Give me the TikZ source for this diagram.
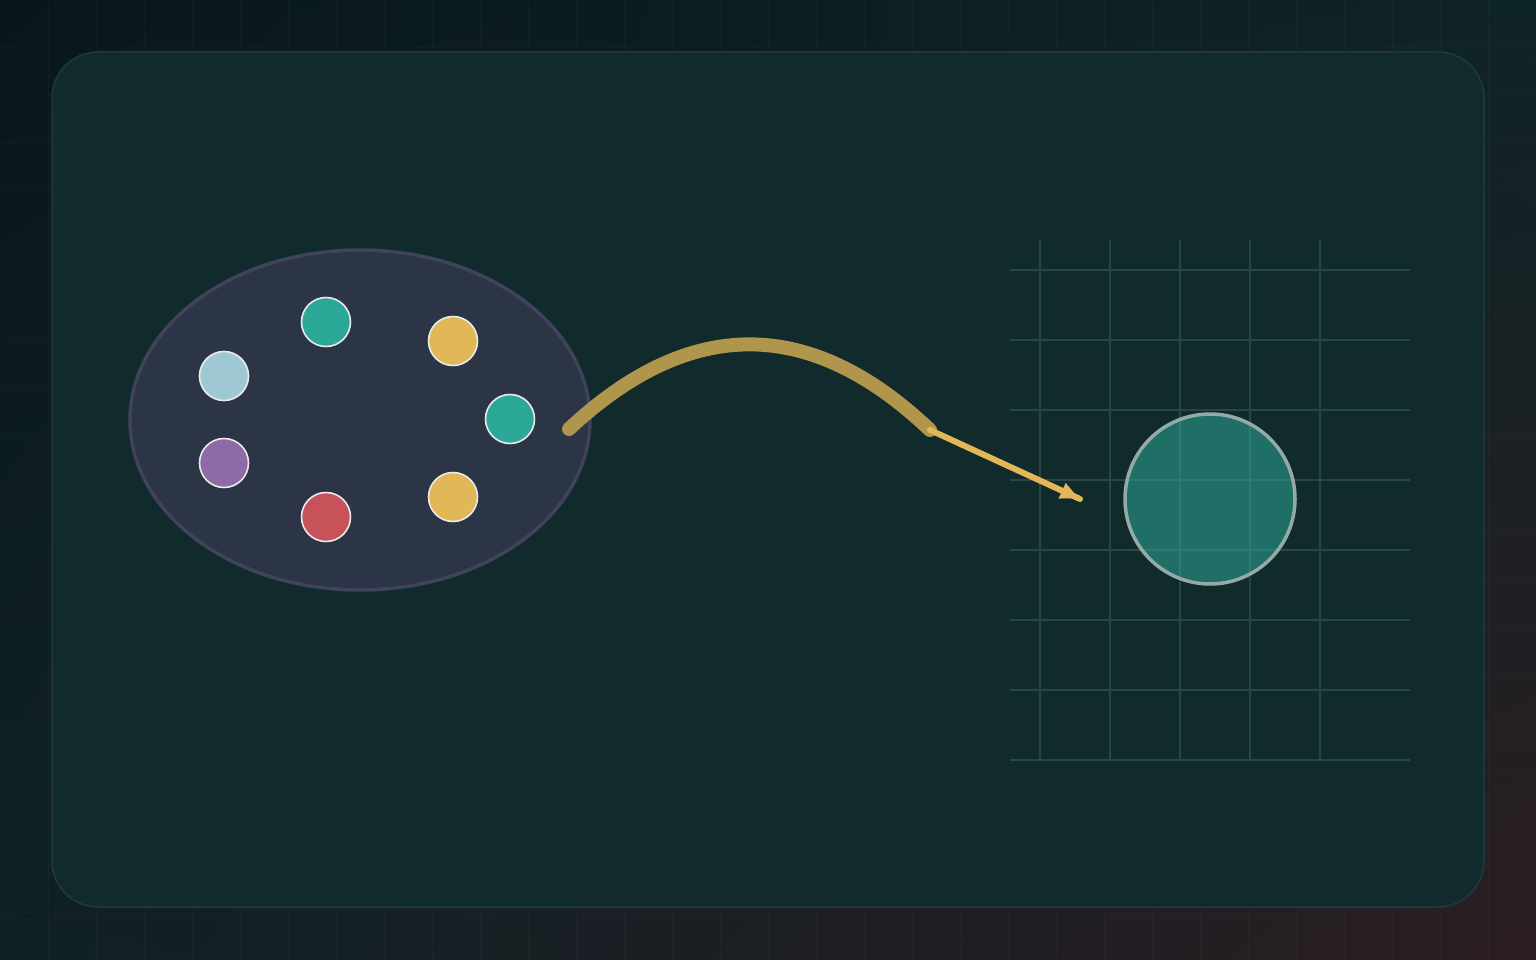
\documentclass[tikz,border=0pt]{standalone}
\usetikzlibrary{arrows.meta,shadings,calc}
\definecolor{bgA}{HTML}{08171C}
\definecolor{bgB}{HTML}{0F2426}
\definecolor{bgC}{HTML}{0F2125}
\definecolor{bgD}{HTML}{2A1D22}
\definecolor{panel}{HTML}{112A2C}
\definecolor{panelline}{HTML}{1F3A3D}
\definecolor{ellfill}{HTML}{2B3546}
\definecolor{ellline}{HTML}{40435B}
\definecolor{cteal}{HTML}{2CA898}
\definecolor{cyellow}{HTML}{E1B757}
\definecolor{cblue}{HTML}{9FC8D4}
\definecolor{cpurple}{HTML}{8F6BA5}
\definecolor{cred}{HTML}{C8525A}
\definecolor{curvecol}{HTML}{B0954C}
\definecolor{gridcol}{HTML}{2A4546}
\definecolor{ringcol}{HTML}{93AAA7}
\tikzset{
  dot/.style={circle, draw=white!92!black, line width=1.6pt, minimum size=49pt, inner sep=0pt},
  gridline/.style={draw=gridcol, line width=1.3pt},
  bggrid/.style={draw=white, draw opacity=0.022, line width=1pt},
}
\begin{document}
\begin{tikzpicture}[x=1pt,y=-1pt]
\useasboundingbox (0,0) rectangle (1536,960);
% background
\shade[upper left=bgA, upper right=bgB, lower left=bgC, lower right=bgD] (0,0) rectangle (1536,960);
\foreach \i in {48,96,...,1535} \draw[bggrid] (\i,0) -- (\i,960);
\foreach \j in {48,96,...,959} \draw[bggrid] (0,\j) -- (1536,\j);
% panel
\draw[fill=panel, draw=panelline, line width=1.5pt, rounded corners=46pt] (52,52) rectangle (1484,907);
% ellipse cluster
\draw[fill=ellfill, draw=ellline, line width=3.5pt] (360,420) ellipse [x radius=230, y radius=170];
\node[dot, fill=cteal]   (t1) at (326,322) {};
\node[dot, fill=cyellow] (y1) at (453,341) {};
\node[dot, fill=cblue]   (b1) at (224,376) {};
\node[dot, fill=cteal]   (t2) at (510,419) {};
\node[dot, fill=cpurple] (p1) at (224,463) {};
\node[dot, fill=cyellow] (y2) at (453,497) {};
\node[dot, fill=cred]    (r1) at (326,517) {};
% grid on right
\foreach \x in {1040,1110,1180,1250,1320} \draw[gridline] (\x,240) -- (\x,760);
\foreach \y in {270,340,410,480,550,620,690,760} \draw[gridline] (1010,\y) -- (1410,\y);
% big circle
\node[circle, minimum size=170pt, inner sep=0pt, fill=cteal, fill opacity=0.55, draw=ringcol, line width=3.5pt] (big) at (1210,499) {};
% connectors
\coordinate (cs) at (569,429);
\coordinate (ce) at (930,430);
\coordinate (ae) at (1080,499);
\draw[curvecol, line width=14pt, line cap=round] (cs) .. controls (690,316) and (810,316) .. (ce);
\draw[cyellow, line width=6pt, line cap=round] (ce) -- (ae);
\draw[cyellow, line width=0.1pt, -{Triangle[length=18pt,width=17pt]}] ($(ce)!0.86!(ae)$) -- ($(ce)!0.99!(ae)$);
\end{tikzpicture}
\end{document}
